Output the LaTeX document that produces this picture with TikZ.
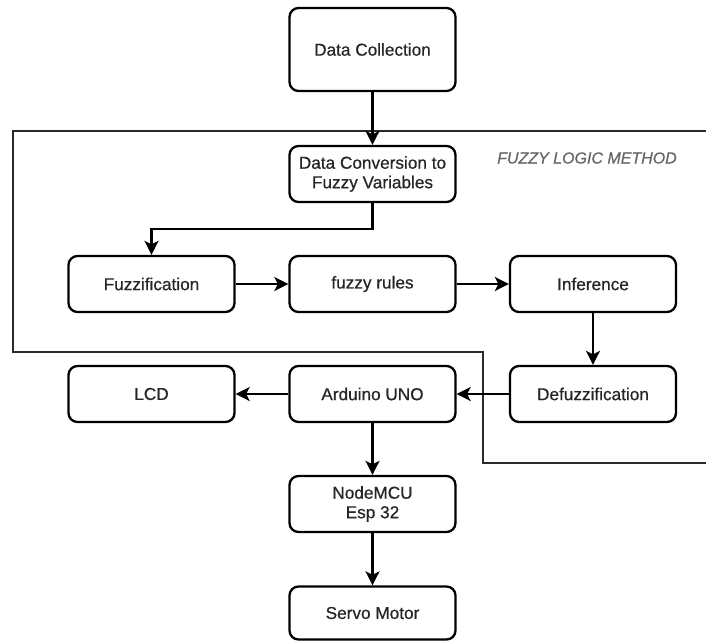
\documentclass[tikz,border=0pt]{standalone}
\usepackage{fontspec}
\setmainfont{Liberation Sans}
\newfontfamily\boxfont[FakeBold=0.6]{Liberation Sans}
\usetikzlibrary{arrows.meta}
\definecolor{framegray}{HTML}{2A2A2A}
\definecolor{labelgray}{HTML}{666666}
\tikzset{
  box/.style={draw=black, line width=2.3pt, rounded corners=9pt, fill=white,
    minimum width=166pt, minimum height=56pt, align=center, inner sep=2pt,
    font=\boxfont\fontsize{17.2}{19.5}\selectfont, text=black!85},
  conn/.style={line width=2.3pt, -{Stealth[length=14pt,width=14pt,inset=3.5pt]}},
  frame/.style={draw=framegray, line width=1.4pt}
}
\begin{document}
\begin{tikzpicture}[x=1pt,y=-1pt]
\useasboundingbox (0,0) rectangle (706,640);
% fuzzy logic frame
\draw[frame] (706,131) -- (13,131) -- (13,352) -- (483,352) -- (483,463) -- (706,463);
\node[font=\boxfont\itshape\fontsize{16}{18}\selectfont, text=labelgray] (lbl) at (587,158) {FUZZY LOGIC METHOD};
% nodes
\node[box, minimum height=83pt] (dc) at (372.5,49.5) {Data Collection};
\node[box] (conv) at (372.5,174) {Data Conversion to\\Fuzzy Variables};
\node[box] (fuzz) at (151.5,284) {Fuzzification};
\node[box] (rules) at (372.5,284) {fuzzy rules};
\node[box] (inf) at (593,284) {Inference};
\node[box] (defuzz) at (593,394) {Defuzzification};
\node[box] (ard) at (372.5,394) {Arduino UNO};
\node[box] (lcd) at (151.5,394) {LCD};
\node[box] (mcu) at (372.5,504) {NodeMCU\\Esp 32};
\node[box, minimum height=53pt] (servo) at (372.5,613) {Servo Motor};
% connectors
\draw[conn] (dc) -- (conv);
\draw[conn] (conv.south) -- ++(0,26) -| (fuzz.north);
\draw[conn] (fuzz) -- (rules);
\draw[conn] (rules) -- (inf);
\draw[conn] (inf) -- (defuzz);
\draw[conn] (defuzz) -- (ard);
\draw[conn] (ard) -- (lcd);
\draw[conn] (ard) -- (mcu);
\draw[conn] (mcu) -- (servo);
\end{tikzpicture}
\end{document}
